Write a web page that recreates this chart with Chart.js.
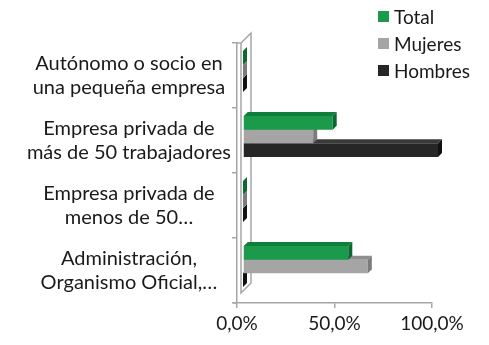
<!DOCTYPE html>
<html lang="es">
<head>
<meta charset="utf-8">
<title>Tipo de empresa</title>
<script src="https://cdn.jsdelivr.net/npm/chart.js@4.4.0/dist/chart.umd.min.js"></script>
<style>
  html, body { margin: 0; padding: 0; background: #fff; }
  #wrap { position: relative; width: 489px; height: 345px; }
  #leyenda { position: absolute; left: 378px; top: 3px; font: 19px Lato, sans-serif; color: #1a1a1a; }
  #leyenda .fila { height: 27px; display: flex; align-items: center; }
  #leyenda .caja { width: 11px; height: 11px; margin-right: 5px; }
</style>
</head>
<body>
<div id="wrap">
  <canvas id="grafico" width="489" height="345"></canvas>
  <div id="leyenda"></div>
</div>
<script>
// categorías (de arriba a abajo) y series en %
const categorias = [
  ['Autónomo o socio en', 'una pequeña empresa'],
  ['Empresa privada de', 'más de 50 trabajadores'],
  ['Empresa privada de', 'menos de 50…'],
  ['Administración,', 'Organismo Oficial,…']
];
const series   = ['Total', 'Mujeres', 'Hombres'];
const total    = [0, 46, 0, 54];
const mujeres  = [0, 36, 0, 64];
const hombres  = [0, 100, 0, 0];
const ticksX   = ['0,0%', '50,0%', '100,0%'];

// colores: cara frontal, cara superior, cara lateral
const colores       = ['#1a9a4a', '#a5a5a5', '#262626'];
const coloresArriba = ['#0f7e3b', '#8e8e8e', '#3a3a3a'];
const coloresLado   = ['#0b6830', '#7b7b7b', '#111111'];

const GRIS  = '#a6a6a6';
const PROF  = 4;                 // profundidad de las barras
const DESPL = { x: 6, y: -4 };   // las barras quedan un poco detrás del plano frontal

// pared lateral en perspectiva
const pared = {
  id: 'pared',
  beforeDatasetsDraw(chart) {
    const { ctx, chartArea: { left: L, top: T, bottom: B } } = chart;
    ctx.save();
    ctx.strokeStyle = GRIS;
    ctx.lineWidth = 1.5;
    ctx.beginPath();
    ctx.moveTo(L, T);
    ctx.lineTo(L + 4, T);
    ctx.lineTo(L + 14, T - 10);
    ctx.lineTo(L + 14, B - 20);
    ctx.lineTo(L + 4, B - 10);
    ctx.lineTo(L + 4, T);
    ctx.moveTo(L - 4, B);
    ctx.lineTo(L, B);
    ctx.stroke();
    ctx.restore();
  }
};

// caras superior y lateral de cada barra
const barras3d = {
  id: 'barras3d',
  beforeDatasetsDraw(chart) {
    chart.ctx.save();
    chart.ctx.translate(DESPL.x, DESPL.y);
  },
  afterDatasetDraw(chart, args) {
    const ctx = chart.ctx;
    const i = args.index;
    args.meta.data.forEach(bar => {
      const { x, y, base, height } = bar.getProps(['x', 'y', 'base', 'height'], true);
      const arriba = y - height / 2, abajo = y + height / 2;
      ctx.fillStyle = coloresArriba[i];
      ctx.beginPath();
      ctx.moveTo(base, arriba);
      ctx.lineTo(x, arriba);
      ctx.lineTo(x + PROF, arriba - PROF);
      ctx.lineTo(base + PROF, arriba - PROF);
      ctx.closePath();
      ctx.fill();
      ctx.fillStyle = coloresLado[i];
      ctx.beginPath();
      ctx.moveTo(x, arriba);
      ctx.lineTo(x + PROF, arriba - PROF);
      ctx.lineTo(x + PROF, abajo - PROF);
      ctx.lineTo(x, abajo);
      ctx.closePath();
      ctx.fill();
    });
  },
  afterDatasetsDraw(chart) {
    chart.ctx.restore();
  }
};

Chart.defaults.font.family = 'Lato, sans-serif';
Chart.defaults.font.size = 19;
Chart.defaults.color = '#1a1a1a';

const valores = [total, mujeres, hombres];

new Chart(document.getElementById('grafico'), {
  type: 'bar',
  data: {
    labels: categorias,
    datasets: series.map((s, i) => ({
      label: s,
      data: valores[i],
      backgroundColor: colores[i],
      borderWidth: 0,
      clip: false,
      categoryPercentage: 0.63,
      barPercentage: 1
    }))
  },
  options: {
    indexAxis: 'y',
    responsive: false,
    animation: false,
    devicePixelRatio: 1,
    layout: { padding: { top: 43, right: 57, left: 0, bottom: 0 } },
    plugins: {
      legend: { display: false },
      tooltip: { enabled: false }
    },
    scales: {
      x: {
        min: 0, max: 100,
        afterFit(s) { s.height = 42; },
        border: { color: GRIS, width: 1.5 },
        grid: { drawOnChartArea: false, tickLength: 5, color: GRIS, lineWidth: 1.5 },
        ticks: {
          stepSize: 50,
          padding: 4,
          maxRotation: 0,
          callback: (v, idx) => ticksX[idx]
        }
      },
      y: {
        afterFit(s) { s.width = 237; },
        border: { color: GRIS, width: 1.5 },
        grid: { drawOnChartArea: false, tickLength: 5, color: GRIS, lineWidth: 1.5 },
        ticks: { crossAlign: 'center', padding: 1, font: { size: 20, lineHeight: 1.2 } }
      }
    }
  },
  plugins: [pared, barras3d]
});

// leyenda
const leyenda = document.getElementById('leyenda');
series.forEach((s, i) => {
  const fila = document.createElement('div');
  fila.className = 'fila';
  const caja = document.createElement('span');
  caja.className = 'caja';
  caja.style.background = colores[i];
  fila.appendChild(caja);
  fila.appendChild(document.createTextNode(s));
  leyenda.appendChild(fila);
});
</script>
</body>
</html>
